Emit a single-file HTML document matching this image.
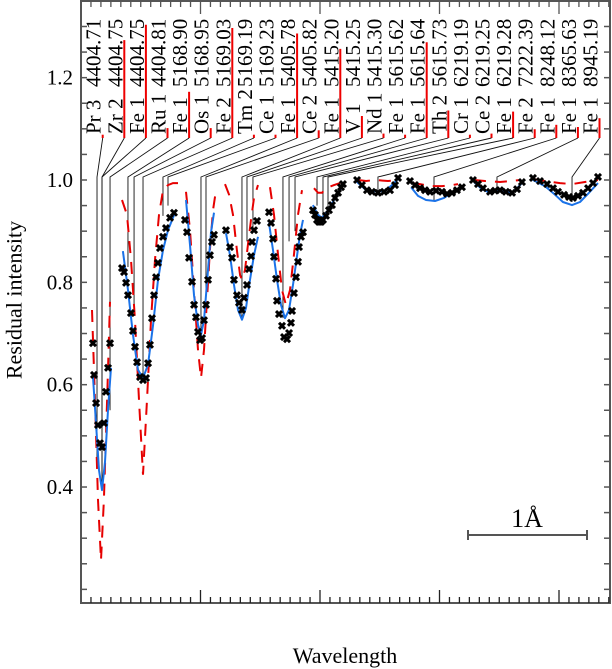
<!DOCTYPE html>
<html><head><meta charset="utf-8">
<style>
html,body{margin:0;padding:0;background:#fff;}
svg{display:block;font-family:"Liberation Serif",serif;}
</style></head>
<body>
<svg id="chart" width="612" height="669" viewBox="0 0 612 669" xmlns="http://www.w3.org/2000/svg">
<g id="layer-lines"></g>
<g id="layer-data"></g>
<g id="layer-axes"></g>
<text x="14" y="300" transform="rotate(-90 14 300)" text-anchor="middle" font-size="22" dominant-baseline="central">Residual intensity</text>
<text x="345" y="663" text-anchor="middle" font-size="22">Wavelength</text>
<g>
<line x1="468" y1="535" x2="587" y2="535" stroke="#555" stroke-width="2"/>
<line x1="468" y1="530" x2="468" y2="540" stroke="#555" stroke-width="2"/>
<line x1="587" y1="530" x2="587" y2="540" stroke="#555" stroke-width="2"/>
<text x="527" y="527" text-anchor="middle" font-size="26">1Å</text>
</g>
</svg>
<script>
// ---- data (x in Å offset, y residual intensity) ----
const lineSpecies = ["Pr 3","Zr 2","Fe 1","Ru 1","Fe 1","Os 1","Fe 2","Tm 2","Ce 1","Fe 1","Ce 2","Fe 1","V 1","Nd 1","Fe 1","Fe 1","Th 2","Cr 1","Ce 2","Fe 1","Fe 2","Fe 1","Fe 1","Fe 1"];
const lineWavelengths = ["4404.71","4404.75","4404.75","4404.81","5168.90","5168.95","5169.03","5169.19","5169.23","5405.78","5405.82","5415.20","5415.25","5415.30","5615.62","5615.64","5615.73","6219.19","6219.25","6219.28","7222.39","8248.12","8365.63","8945.19"];
const lineStrengths = [0.03,0.89,1.03,0.09,0.42,0.09,1.0,0.03,0.03,0.95,0.07,0.81,0.2,0.04,0.03,0.87,0.25,0.03,0.04,0.24,0.08,0.12,0.1,0.18];
const linePositions = [0.134,0.176,0.176,0.243,0.393,0.444,0.519,0.686,0.728,1.004,1.046,1.347,1.389,1.439,1.690,1.741,1.791,1.975,2.025,2.067,2.485,2.954,3.481,4.109];
const lineDepths = [0.45,0.40,0.40,0.55,0.83,0.75,0.62,0.93,0.95,0.70,0.75,0.73,0.88,0.90,0.73,0.88,0.90,0.95,0.93,0.93,0.975,0.96,0.975,0.957];

const obsX = [
 [0.100,0.109,0.126,0.142,0.159,0.176,0.192,0.209,0.226,0.243],
 [0.343,0.360,0.377,0.393,0.418,0.435,0.452,0.469,0.494,0.519,0.544,0.561,0.577,0.594,0.611,0.628,0.644,0.661,0.686,0.711,0.745,0.778],
 [0.870,0.887,0.904,0.929,0.946,0.962,0.979,0.996,1.013,1.029,1.046,1.063,1.079,1.096,1.113],
 [1.213,1.247,1.264,1.280,1.305,1.322,1.347,1.364,1.389,1.406,1.423,1.431,1.448,1.473],
 [1.573,1.590,1.607,1.615,1.632,1.640,1.657,1.682,1.699,1.724,1.741,1.757,1.766,1.782,1.799,1.816,1.824,1.841,1.858],
 [1.941,1.958,1.975,1.992,2.008,2.025,2.050,2.075,2.100,2.126,2.151,2.176,2.192],
 [2.310,2.351,2.393,2.435,2.485,2.536,2.586,2.628,2.653],
 [2.753,2.795,2.837,2.879,2.921,2.971,3.021,3.063,3.105,3.146,3.188],
 [3.280,3.322,3.364,3.423,3.464,3.506,3.556,3.607,3.649,3.690],
 [3.782,3.841,3.900,3.950,3.992,4.042,4.084,4.117,4.159,4.201,4.243,4.285,4.326]
];
const obsY = [
 [0.681,0.619,0.564,0.521,0.486,0.478,0.525,0.586,0.633,0.681],
 [0.828,0.820,0.799,0.775,0.740,0.705,0.674,0.644,0.615,0.609,0.613,0.642,0.678,0.730,0.775,0.810,0.838,0.867,0.889,0.906,0.926,0.936],
 [0.922,0.898,0.848,0.801,0.756,0.732,0.703,0.687,0.691,0.726,0.756,0.805,0.853,0.879,0.893],
 [0.902,0.869,0.848,0.805,0.775,0.760,0.746,0.770,0.795,0.826,0.851,0.879,0.902,0.920],
 [0.937,0.916,0.885,0.850,0.807,0.764,0.738,0.715,0.693,0.689,0.701,0.721,0.744,0.779,0.810,0.840,0.869,0.889,0.898],
 [0.941,0.932,0.922,0.918,0.918,0.922,0.930,0.941,0.951,0.965,0.975,0.986,0.992],
 [1.000,0.990,0.980,0.977,0.975,0.977,0.980,0.990,1.004],
 [0.998,0.990,0.984,0.980,0.977,0.979,0.977,0.973,0.975,0.980,0.986],
 [1.000,0.992,0.984,0.977,0.979,0.980,0.977,0.975,0.982,0.996],
 [1.004,0.998,0.992,0.984,0.977,0.971,0.967,0.965,0.969,0.975,0.984,0.994,1.006]
];
const fitX = [
 [0.100,0.126,0.151,0.176,0.201,0.226,0.251],
 [0.351,0.393,0.435,0.477,0.519,0.561,0.603,0.644,0.686,0.728,0.787],
 [0.879,0.912,0.946,0.979,1.004,1.029,1.063,1.088,1.113],
 [1.213,1.247,1.280,1.314,1.347,1.381,1.414,1.448,1.481],
 [1.573,1.607,1.640,1.674,1.707,1.741,1.774,1.808,1.833,1.858],
 [1.941,1.983,2.017,2.067,2.117,2.159,2.201],
 [2.310,2.377,2.435,2.485,2.552,2.611,2.661],
 [2.762,2.820,2.887,2.962,3.038,3.105,3.188],
 [3.289,3.356,3.423,3.481,3.548,3.607,3.657,3.690],
 [3.782,3.883,3.967,4.033,4.109,4.176,4.243,4.326]
];
const fitY = [
 [0.615,0.521,0.433,0.394,0.449,0.551,0.633],
 [0.861,0.785,0.697,0.629,0.613,0.639,0.717,0.805,0.863,0.902,0.936],
 [0.961,0.873,0.775,0.717,0.697,0.726,0.824,0.898,0.936],
 [0.896,0.853,0.795,0.746,0.727,0.750,0.805,0.853,0.889],
 [0.916,0.863,0.805,0.756,0.730,0.746,0.795,0.853,0.893,0.922],
 [0.951,0.932,0.926,0.941,0.961,0.977,0.994],
 [0.996,0.982,0.979,0.977,0.980,0.992,1.004],
 [0.986,0.969,0.961,0.959,0.965,0.975,0.986],
 [0.996,0.982,0.975,0.980,0.977,0.975,0.986,0.994],
 [1.000,0.988,0.971,0.957,0.951,0.957,0.973,0.994]
];
const modelX = [
 [0.092,0.117,0.142,0.167,0.192,0.218,0.243],
 [0.343,0.385,0.418,0.452,0.485,0.519,0.552,0.586,0.619,0.653,0.686,0.728,0.770,0.812],
 [0.879,0.912,0.946,0.979,1.004,1.029,1.054,1.079,1.105,1.130],
 [1.205,1.239,1.272,1.305,1.331,1.347,1.372,1.397,1.423,1.448,1.481],
 [1.582,1.615,1.649,1.682,1.715,1.749,1.782,1.816,1.849],
 [1.950,1.983,2.017,2.050,2.117,2.167],
 [2.318,2.385,2.460,2.569,2.653],
 [2.770,2.837,2.921,3.021,3.105,3.155],
 [3.289,3.381,3.506,3.607,3.674],
 [3.782,3.883,4.008,4.109,4.217,4.326]
];
const modelY = [
 [0.746,0.570,0.375,0.257,0.375,0.570,0.762],
 [0.961,0.932,0.844,0.726,0.570,0.424,0.570,0.726,0.844,0.932,0.980,0.990,0.994,0.994],
 [0.977,0.902,0.785,0.668,0.613,0.668,0.766,0.863,0.941,0.980],
 [0.992,0.971,0.932,0.863,0.814,0.805,0.824,0.873,0.922,0.965,0.990],
 [0.986,0.932,0.853,0.785,0.756,0.785,0.853,0.932,0.980],
 [0.984,0.975,0.975,0.984,0.990,0.994],
 [1.000,0.998,1.000,0.998,1.000],
 [0.994,0.992,0.988,0.988,0.990,0.992],
 [1.000,0.998,0.996,0.998,1.000],
 [1.002,0.998,0.994,0.992,0.996,1.000]
];
const yTickLabels = ["0.4","0.6","0.8","1.0","1.2"];
const yTickValues = [0.4,0.6,0.8,1.0,1.2];

// ---- layout ----
const L=81, R=610, T=1, B=603;
const xMin=0, xMax=(R-L)/119.5;
const yMin=1-(B-180)/511.7, yMax=1+(180-T)/511.7;
const sx=v=>L+(v-xMin)/(xMax-xMin)*(R-L);
const sy=v=>T+(yMax-v)/(yMax-yMin)*(B-T);
const NS="http://www.w3.org/2000/svg";
function mk(tag,attrs,parent){const e=document.createElementNS(NS,tag);for(const k in attrs)e.setAttribute(k,attrs[k]);parent.appendChild(e);return e;}
const gA=document.getElementById('layer-axes'), gD=document.getElementById('layer-data'), gL=document.getElementById('layer-lines');

// axes
const frame=mk('rect',{x:L,y:T,width:R-L,height:B-T,fill:'none',stroke:'#555','stroke-width':2},gA);


for(let v=0.2;v<=yMax+1e-9;v+=0.05){
  const y=sy(v); if(y<T+2||y>B-2) continue;
  const t1=mk('line',{x1:L,y1:y,x2:L+6,y2:y,stroke:'#555','stroke-width':1.5},gA);
  
  
  const t2=mk('line',{x1:R-6,y1:y,x2:R,y2:y,stroke:'#555','stroke-width':1.5},gA);
  
  
}
yTickValues.forEach((v,i)=>{
  const t=mk('text',{x:L-8,y:sy(v)+7,'text-anchor':'end','font-size':21},gA);
  t.textContent=yTickLabels[i];
  
  
});
for(let k=0;k*(1/12)<=xMax+1e-9;k++){
  const v=k/12, x=sx(v); if(x<L+2||x>R-1) continue;
  const len=(k%12===0)?13:6;
  const t=mk('line',{x1:x,y1:B,x2:x,y2:B-len,stroke:'#222','stroke-width':1.3},gA);
  
  
  const t2=mk('line',{x1:x,y1:T,x2:x,y2:T+len,stroke:'#555','stroke-width':1.3},gA);
  
  
}

// line identifications
const colStart=102.7, colStep=21.6, textBottom=134, kinkY=177;
lineSpecies.forEach((sp,i)=>{
  const rx=colStart+colStep*i, bx=rx-2;
  const t=mk('text',{x:bx,y:textBottom,transform:`rotate(-90 ${bx} ${textBottom})`,'font-size':21},gL);
  t.textContent=sp;
  
  
  const w=mk('text',{x:bx,y:87,transform:`rotate(-90 ${bx} 87)`,'font-size':21},gL);
  w.textContent=lineWavelengths[i];
  
  
  const h=Math.max(3,lineStrengths[i]*110);
  const rb=mk('line',{x1:rx,y1:138,x2:rx,y2:138-h,stroke:'#e00','stroke-width':2},gL);
  
  
  const lx=sx(linePositions[i]);
  const c=mk('polyline',{points:`${rx},138 ${lx},${kinkY} ${lx},${sy(lineDepths[i])}`,fill:'none',stroke:'#111','stroke-width':0.9},gL);
  
  
});

// series
obsX.forEach((xs,s)=>{
  const m=mk('path',{d:modelX[s].map((x,i)=>(i?'L':'M')+sx(x).toFixed(1)+' '+sy(modelY[s][i]).toFixed(1)).join(''),fill:'none',stroke:'#e60000','stroke-width':2,'stroke-dasharray':'12,9'},gD);
  
  
  const f=mk('path',{d:fitX[s].map((x,i)=>(i?'L':'M')+sx(x).toFixed(1)+' '+sy(fitY[s][i]).toFixed(1)).join(''),fill:'none',stroke:'#1a72e8','stroke-width':2,'stroke-linejoin':'round'},gD);
  
  
  xs.forEach((x,i)=>{
    const px=sx(x), py=sy(obsY[s][i]), d=3;
    const p=mk('path',{d:`M${px-d} ${py-d}L${px+d} ${py+d}M${px-d} ${py+d}L${px+d} ${py-d}`,stroke:'#000','stroke-width':3},gD);
    
    
  });
});
</script>
</body></html>
